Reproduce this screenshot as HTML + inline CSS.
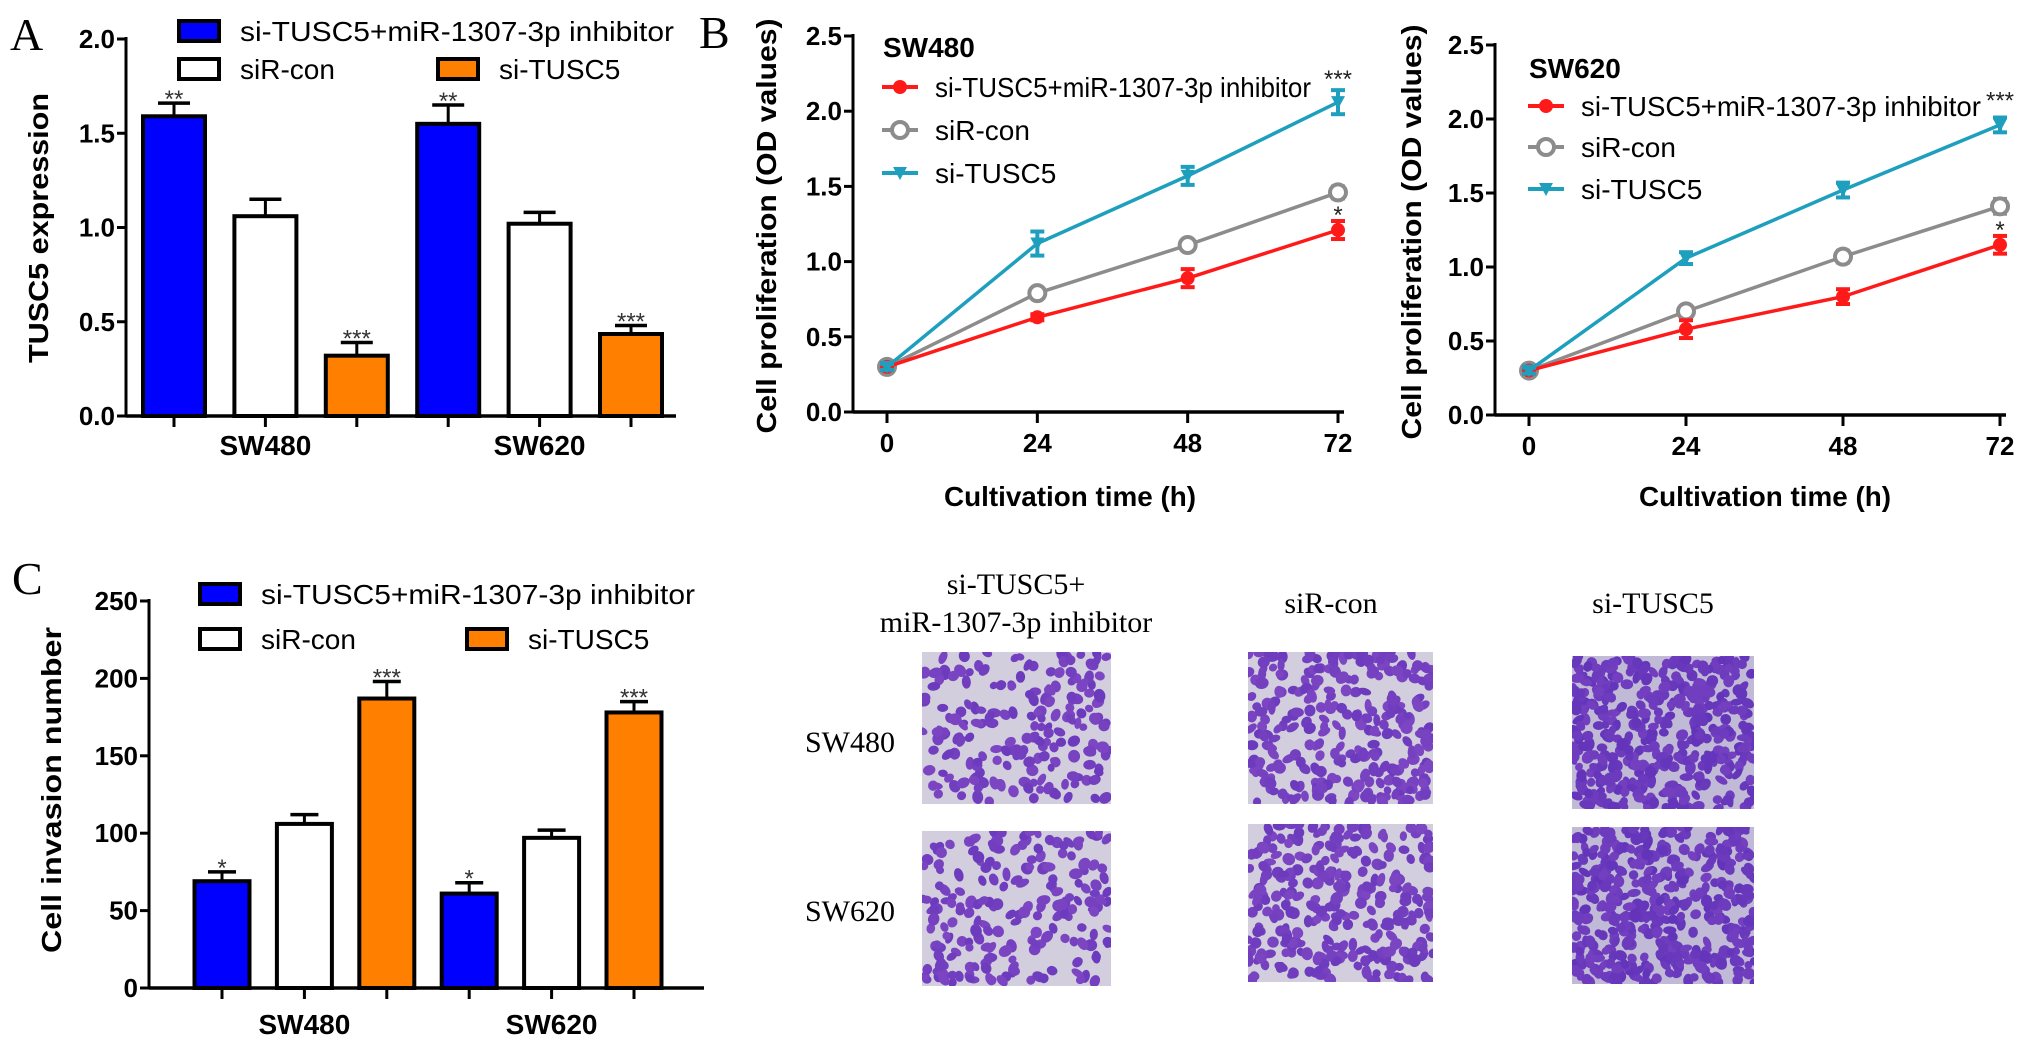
<!DOCTYPE html>
<html><head><meta charset="utf-8"><style>
html,body{margin:0;padding:0;background:#fff;}
svg{display:block;}
text{font-family:"Liberation Sans",Arial,sans-serif;}
.serif{font-family:"Liberation Serif","Times New Roman",serif;}
</style></head>
<body>
<svg id="fig" width="2031" height="1049" viewBox="0 0 2031 1049" xmlns="http://www.w3.org/2000/svg">
<rect width="2031" height="1049" fill="#fff"/>
<text class="serif" x="10" y="50" font-size="46">A</text>
<text class="serif" x="699" y="48" font-size="46">B</text>
<text class="serif" x="12" y="594" font-size="46">C</text>
<g id="gA"></g>
<g id="gB1"></g>
<g id="gB2"></g>
<g id="gC"></g>
<g id="gPhotos"></g>
</svg>
<script>
// ---------- data ----------
const barGroups = ["SW480", "SW620"];
const barSeries = ["si-TUSC5+miR-1307-3p inhibitor", "siR-con", "si-TUSC5"];
const barColors = ["#0000ff", "#ffffff", "#ff8000"];
const aValues = [[1.59, 1.06, 0.32], [1.55, 1.02, 0.435]];
const aErrors = [[0.07, 0.09, 0.07], [0.10, 0.06, 0.045]];
const aStars = [["**", "", "***"], ["**", "", "***"]];
const aTicks = [0, 0.5, 1.0, 1.5, 2.0];
const aTickLabels = ["0.0", "0.5", "1.0", "1.5", "2.0"];
const cValues = [[69, 106, 187], [61, 97, 178]];
const cErrors = [[6, 6, 11], [7, 5, 7]];
const cStars = [["*", "", "***"], ["*", "", "***"]];
const cTicks = [0, 50, 100, 150, 200, 250];
const cTickLabels = ["0", "50", "100", "150", "200", "250"];
const timePoints = [0, 24, 48, 72];
const timeLabels = ["0", "24", "48", "72"];
const bTicks = [0, 0.5, 1.0, 1.5, 2.0, 2.5];
const bTickLabels = ["0.0", "0.5", "1.0", "1.5", "2.0", "2.5"];
const lineSeries = ["si-TUSC5+miR-1307-3p inhibitor", "siR-con", "si-TUSC5"];
const lineColors = ["#ff1a1a", "#8c8c8c", "#1e9fbd"];
const sw480Red = [0.30, 0.63, 0.89, 1.21];
const sw480Gray = [0.30, 0.79, 1.11, 1.46];
const sw480Teal = [0.30, 1.12, 1.57, 2.06];
const sw480Err = [[0.02, 0.02, 0.06, 0.06], [0.02, 0.03, 0.03, 0.04], [0.02, 0.08, 0.06, 0.08]];
const sw620Red = [0.30, 0.58, 0.80, 1.15];
const sw620Gray = [0.30, 0.70, 1.07, 1.41];
const sw620Teal = [0.30, 1.06, 1.52, 1.96];
const sw620Err = [[0.02, 0.06, 0.05, 0.06], [0.02, 0.03, 0.04, 0.05], [0.02, 0.04, 0.05, 0.05]];

const NS = "http://www.w3.org/2000/svg";
function mk(parent, tag, attrs, txt) {
  const e = document.createElementNS(NS, tag);
  for (const k in attrs) e.setAttribute(k, attrs[k]);
  if (txt !== undefined) e.textContent = txt;
  parent.appendChild(e);
  return e;
}

// ---------- bar chart ----------
function barChart(g, o) {
  const y = v => o.y0 - (v - o.vmin) / (o.vmax - o.vmin) * (o.y0 - o.y1);
  const ax = mk(g, "line", {x1: o.ax, y1: o.y1 - 2, x2: o.ax, y2: o.y0 + 1.5, stroke: "#000", "stroke-width": 3});
  
  
  const xa = mk(g, "line", {x1: o.ax, y1: o.y0, x2: o.xend, y2: o.y0, stroke: "#000", "stroke-width": 3.5});
  
  
  o.ticks.forEach((t, i) => {
    mk(g, "line", {x1: o.ax - 9, y1: y(t), x2: o.ax, y2: y(t), stroke: "#000", "stroke-width": 3});
    const tl = mk(g, "text", {x: o.ax - 11, y: y(t) + 9, "font-size": 26, "font-weight": "bold", "text-anchor": "end"}, o.tickLabels[i]);
    
    
  });
  const n = barSeries.length;
  barGroups.forEach((gName, gi) => {
    for (let s = 0; s < n; s++) {
      const idx = gi * n + s;
      const cx = o.firstCenter + idx * o.step;
      const v = o.values[gi][s], e = o.errors[gi][s];
      mk(g, "line", {x1: cx, y1: y(v), x2: cx, y2: y(v + e), stroke: "#000", "stroke-width": 3});
      mk(g, "line", {x1: cx - o.cap, y1: y(v + e), x2: cx + o.cap, y2: y(v + e), stroke: "#000", "stroke-width": 3.5});
      const r = mk(g, "rect", {x: cx - o.bw / 2, y: y(v), width: o.bw, height: o.y0 - y(v), fill: barColors[s], stroke: "#000", "stroke-width": 4});
      
      
      mk(g, "line", {x1: cx, y1: o.y0, x2: cx, y2: o.y0 + 11, stroke: "#000", "stroke-width": 3});
      if (o.stars[gi][s]) {
        const st = mk(g, "text", {x: cx, y: y(v + e) + 4, "font-size": 24, "text-anchor": "middle", fill: "#333"}, o.stars[gi][s]);
        
        
      }
    }
    const gc = o.firstCenter + (gi * n + 1) * o.step;
    const gl = mk(g, "text", {x: gc, y: o.labelY, "font-size": 28, "font-weight": "bold", "text-anchor": "middle"}, gName);
    
    
  });
  const tt = mk(g, "text", {x: 0, y: 0, "font-size": 28, "font-weight": "bold", "text-anchor": "middle",
    transform: `translate(${o.titleX},${o.titleY}) rotate(-90)`, textLength: o.titleLen, lengthAdjust: "spacingAndGlyphs"}, o.title);
  
  
  const L = o.legend;
  const pos = [[L.x1, L.r1], [L.x1, L.r2], [L.x2, L.r2]];
  barSeries.forEach((nm, s) => {
    const [lx, ly] = pos[s];
    const sw = mk(g, "rect", {x: lx, y: ly - 10, width: 40, height: 20, fill: barColors[s], stroke: "#000", "stroke-width": 4});
    
    
    const attrs = {x: lx + 61, y: ly + 10, "font-size": 28};
    if (s === 0) { attrs.textLength = L.len0; attrs.lengthAdjust = "spacingAndGlyphs"; }
    const lt = mk(g, "text", attrs, nm);
    
    
  });
}

barChart(document.getElementById("gA"), {
  ax: 126, y0: 416, y1: 39, vmin: 0, vmax: 2, xend: 676, ticks: aTicks, tickLabels: aTickLabels,
  values: aValues, errors: aErrors, stars: aStars, firstCenter: 174, step: 91.4, bw: 62, cap: 16,
  labelY: 455, title: "TUSC5 expression", titleX: 48, titleY: 228, titleLen: 270,
  legend: {x1: 179, x2: 438, r1: 31, r2: 69, len0: 434}
});
barChart(document.getElementById("gC"), {
  ax: 149, y0: 988, y1: 601, vmin: 0, vmax: 250, xend: 704, ticks: cTicks, tickLabels: cTickLabels,
  values: cValues, errors: cErrors, stars: cStars, firstCenter: 222, step: 82.4, bw: 55, cap: 14,
  labelY: 1034, title: "Cell invasion number", titleX: 61, titleY: 790, titleLen: 326,
  legend: {x1: 200, x2: 467, r1: 594, r2: 639, len0: 434}
});

// ---------- line charts ----------
function lineChart(g, o) {
  const y = v => o.y0 - v / 2.5 * (o.y0 - o.y1);
  const x = t => o.x0 + t / 72 * (o.x72 - o.x0);
  const ya = mk(g, "line", {x1: o.ax, y1: o.y1 - 2, x2: o.ax, y2: o.y0 + 1.5, stroke: "#000", "stroke-width": 3});
  
  
  const xa = mk(g, "line", {x1: o.ax, y1: o.y0, x2: o.x72 + 6, y2: o.y0, stroke: "#000", "stroke-width": 3.5});
  
  
  bTicks.forEach((t, i) => {
    mk(g, "line", {x1: o.ax - 9, y1: y(t), x2: o.ax, y2: y(t), stroke: "#000", "stroke-width": 3});
    const tl = mk(g, "text", {x: o.ax - 11, y: y(t) + 9, "font-size": 26, "font-weight": "bold", "text-anchor": "end"}, bTickLabels[i]);
    
    
  });
  timePoints.forEach((t, i) => {
    mk(g, "line", {x1: x(t), y1: o.y0, x2: x(t), y2: o.y0 + 11, stroke: "#000", "stroke-width": 3});
    const tl = mk(g, "text", {x: x(t), y: o.y0 + 40, "font-size": 26, "font-weight": "bold", "text-anchor": "middle"}, timeLabels[i]);
    
    
  });
  const xt = mk(g, "text", {x: o.xtX, y: 506, "font-size": 28, "font-weight": "bold", "text-anchor": "middle", textLength: 252, lengthAdjust: "spacingAndGlyphs"}, "Cultivation time (h)");
  
  
  const yt = mk(g, "text", {x: 0, y: 0, "font-size": 28, "font-weight": "bold", "text-anchor": "middle",
    transform: `translate(${o.ytX},${(o.y0 + o.y1) / 2 + 2}) rotate(-90)`, textLength: 415, lengthAdjust: "spacingAndGlyphs"}, "Cell proliferation (OD values)");
  
  
  const order = [1, 0, 2];
  order.forEach(s => {
    const vals = o.series[s], errs = o.errs[s], col = lineColors[s];
    const pts = timePoints.map((t, i) => x(t) + "," + y(vals[i])).join(" ");
    const pl = mk(g, "polyline", {points: pts, fill: "none", stroke: col, "stroke-width": 3.5});
    
    
    timePoints.forEach((t, i) => {
      const px = x(t), py = y(vals[i]), e = errs[i];
      mk(g, "line", {x1: px, y1: y(vals[i] + e), x2: px, y2: y(vals[i] - e), stroke: col, "stroke-width": 4});
      mk(g, "line", {x1: px - 7, y1: y(vals[i] + e), x2: px + 7, y2: y(vals[i] + e), stroke: col, "stroke-width": 4});
      mk(g, "line", {x1: px - 7, y1: y(vals[i] - e), x2: px + 7, y2: y(vals[i] - e), stroke: col, "stroke-width": 4});
      let m;
      if (s === 0) m = mk(g, "circle", {cx: px, cy: py, r: 7, fill: col});
      else if (s === 1) m = mk(g, "circle", {cx: px, cy: py, r: 8, fill: "#fff", stroke: col, "stroke-width": 4});
      else m = mk(g, "polygon", {points: `${px - 7},${py - 6} ${px + 7},${py - 6} ${px},${py + 7}`, fill: col});
      
      
    });
  });
  const s3 = mk(g, "text", {x: x(72), y: y(o.series[2][3] + o.errs[2][3]) - 3 + o.s3dy, "font-size": 24, "text-anchor": "middle", fill: "#222"}, "***");
  
  
  const s1 = mk(g, "text", {x: x(72), y: y(o.series[0][3] + o.errs[0][3]) + 2, "font-size": 24, "text-anchor": "middle", fill: "#222"}, "*");
  
  
  const ti = mk(g, "text", {x: o.legX - 17, y: o.titleY, "font-size": 28, "font-weight": "bold"}, o.cell);
  
  
  lineSeries.forEach((nm, s) => {
    const ly = o.rows[s], lx = o.legX, col = lineColors[s];
    mk(g, "line", {x1: lx - 18, y1: ly, x2: lx + 18, y2: ly, stroke: col, "stroke-width": 4});
    let m;
    if (s === 0) m = mk(g, "circle", {cx: lx, cy: ly, r: 7, fill: col});
    else if (s === 1) m = mk(g, "circle", {cx: lx, cy: ly, r: 8, fill: "#fff", stroke: col, "stroke-width": 4});
    else m = mk(g, "polygon", {points: `${lx - 7},${ly - 6} ${lx + 7},${ly - 6} ${lx},${ly + 7}`, fill: col});
    
    
    const attrs = {x: lx + 35, y: ly + 10, "font-size": 28};
    if (s === 0) { attrs.textLength = o.len0; attrs.lengthAdjust = "spacingAndGlyphs"; }
    const lt = mk(g, "text", attrs, nm);
    
    
  });
}
lineChart(document.getElementById("gB1"), {
  ax: 853, x0: 887, x72: 1338, y0: 412, y1: 36, series: [sw480Red, sw480Gray, sw480Teal], errs: sw480Err,
  xtX: 1070, ytX: 776, cell: "SW480", legX: 900, titleY: 57, rows: [87, 130, 173], len0: 376, s3dy: 0
});
lineChart(document.getElementById("gB2"), {
  ax: 1495, x0: 1529, x72: 2000, y0: 415, y1: 45, series: [sw620Red, sw620Gray, sw620Teal], errs: sw620Err,
  xtX: 1765, ytX: 1421, cell: "SW620", legX: 1546, titleY: 78, rows: [106, 147, 189], len0: 400, s3dy: -6
});

// ---------- photos ----------
(function () {
  const g = document.getElementById("gPhotos");
  const heads = [
    {x: 1016, lines: ["si-TUSC5+", "miR-1307-3p inhibitor"], ys: [594, 632]},
    {x: 1331, lines: ["siR-con"], ys: [613]},
    {x: 1653, lines: ["si-TUSC5"], ys: [613]}
  ];
  heads.forEach(h => h.lines.forEach((l, i) => {
    const t = mk(g, "text", {class: "serif", x: h.x, y: h.ys[i], "font-size": 30, "text-anchor": "middle"}, l);
    
    
  }));
  [["SW480", 752], ["SW620", 921]].forEach(([l, yy]) => {
    const t = mk(g, "text", {class: "serif", x: 850, y: yy, "font-size": 30, "text-anchor": "middle"}, l);
    
    
  });
  const boxes = [
    [922, 652, 189, 152, 190], [1248, 652, 185, 152, 290], [1572, 656, 182, 153, 420],
    [922, 831, 189, 155, 200], [1248, 824, 185, 158, 300], [1572, 827, 182, 157, 440]
  ];
  let seed = 12345;
  const rnd = () => { seed = (seed * 1103515245 + 12345) % 2147483648; return seed / 2147483648; };
  const defs = mk(g, "defs", {});
  boxes.forEach((b, bi) => {
    const [x, y, w, h, n] = b;
    const cp = mk(defs, "clipPath", {id: "cp" + bi});
    mk(cp, "rect", {x, y, width: w, height: h});
    const pg = mk(g, "g", {"clip-path": `url(#cp${bi})`});
    
    
    mk(pg, "rect", {x, y, width: w, height: h, fill: bi % 3 === 2 ? "#c0bad6" : "#d2cedd"});
    for (let i = 0; i < n; i++) {
      const cx = x + rnd() * w, cy = y + rnd() * h;
      const dk = bi % 3 === 2 ? 0.15 : 0;
      const shade = 0.25 + rnd() * 0.3 + dk;
      const col = `rgb(${Math.round(140 - shade * 60)},${Math.round(80 - shade * 40)},${Math.round(200 - shade * 20)})`;
      mk(pg, "ellipse", {cx, cy, rx: 4 + rnd() * 3, ry: 3.5 + rnd() * 2.5, fill: col, transform: `rotate(${rnd() * 180} ${cx} ${cy})`});
    }
  });
})();
</script>
</body></html>
